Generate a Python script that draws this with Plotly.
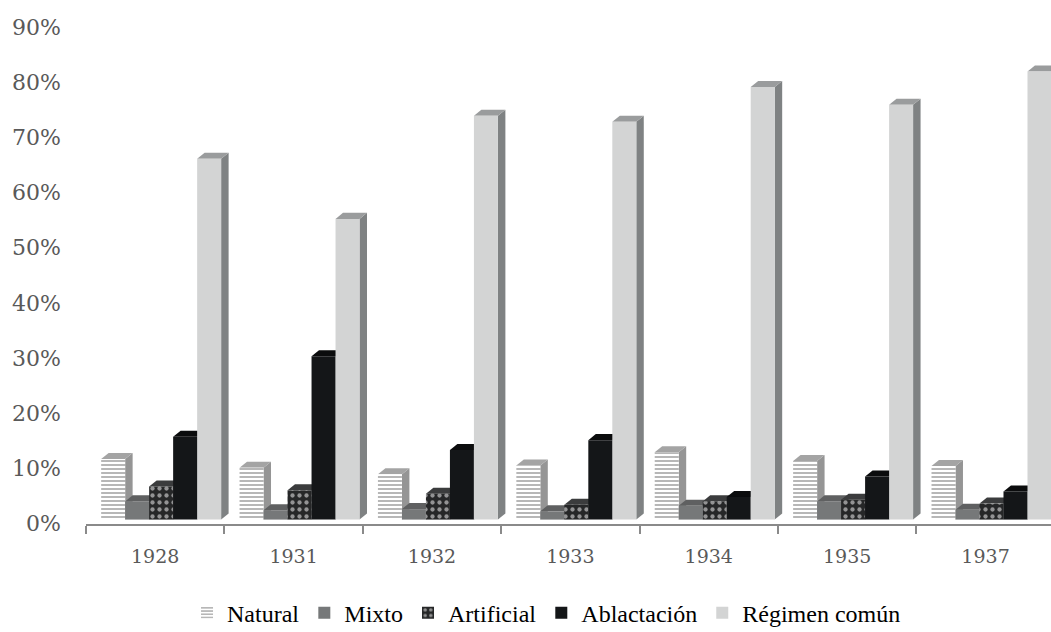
import plotly.graph_objects as go

years = ["1928", "1931", "1932", "1933", "1934", "1935", "1937"]
series_names = ["Natural", "Mixto", "Artificial", "Ablactación", "Régimen común"]
natural = [0.110, 0.094, 0.082, 0.098, 0.122, 0.106, 0.097]
mixto = [0.033, 0.017, 0.019, 0.015, 0.025, 0.033, 0.018]
artificial = [0.060, 0.053, 0.047, 0.027, 0.033, 0.036, 0.029]
ablactacion = [0.150, 0.296, 0.126, 0.144, 0.041, 0.078, 0.051]
regimen = [0.654, 0.545, 0.732, 0.721, 0.784, 0.752, 0.812]
y_ticks = [0.0, 0.1, 0.2, 0.3, 0.4, 0.5, 0.6, 0.7, 0.8, 0.9]

values = [natural, mixto, artificial, ablactacion, regimen]

front_colors = ["#ffffff", "#767879", "#262728", "#141618", "#d3d4d4"]
patterns = [
    dict(shape="-", fgcolor="#707070", bgcolor="#ffffff", size=4, solidity=0.5),
    None,
    dict(shape=".", fgcolor="#ffffff", bgcolor="#262728", size=7, solidity=0.3),
    None,
    None,
]
top_colors = ["#a4a4a4", "#5f6061", "#3b3c3d", "#0b0c0d", "#9a9c9d"]
side_colors = ["#959595", "#5a5b5c", "#333435", "#0e0f10", "#7f8283"]

bar_w = 0.1734
shift = 0.043
dx = 0.054
dy = 0.0109

fig = go.Figure()
shapes = []
n = len(series_names)
for j, (name, vals) in enumerate(zip(series_names, values)):
    off = -n * bar_w / 2 + shift + j * bar_w
    marker = dict(color=front_colors[j], line=dict(width=0))
    if patterns[j] is not None:
        marker["pattern"] = patterns[j]
    fig.add_trace(go.Bar(
        name=name, x=years, y=vals, width=bar_w, offset=off,
        marker=marker, hoverinfo="x+y+name",
    ))

# pseudo-3D side and top faces, computed from the data through the axes
for i in range(len(years)):
    for j, vals in enumerate(values):
        v = vals[i]
        x0 = i - n * bar_w / 2 + shift + j * bar_w
        x1 = x0 + bar_w
        side = (f"M{x1},0 L{x1+dx},{dy} L{x1+dx},{v+dy} L{x1},{v} Z")
        top = (f"M{x0},{v} L{x0+dx},{v+dy} L{x1+dx},{v+dy} L{x1},{v} Z")
        shapes.append(dict(type="path", path=side, xref="x", yref="y",
                           fillcolor=side_colors[j], line=dict(width=0), layer="below"))
        shapes.append(dict(type="path", path=top, xref="x", yref="y",
                           fillcolor=top_colors[j], line=dict(width=0), layer="below"))

fig.update_layout(
    width=1051, height=632,
    margin=dict(l=86, r=0, t=23, b=108, autoexpand=False),
    paper_bgcolor="white", plot_bgcolor="white",
    barmode="overlay",
    shapes=shapes,
    showlegend=True,
    legend=dict(orientation="h", xref="container", yref="container",
                x=0.52, xanchor="center", y=0.03, yanchor="middle",
                font=dict(family="Liberation Serif", size=24, color="#000000"),
                itemsizing="constant", traceorder="normal"),
    xaxis=dict(
        type="category", range=[-0.5, 6.473], automargin=False,
        showline=True, linecolor="#8a8a8a", linewidth=2,
        ticks="outside", tickson="boundaries", ticklen=8, tickcolor="#8a8a8a", tickwidth=2,
        tickfont=dict(family="DejaVu Serif", size=19, color="#595959"),
        showgrid=False, zeroline=False,
        ticklabelstandoff=14,
    ),
    yaxis=dict(
        range=[-0.008, 0.9], tickvals=y_ticks, tickformat=".0%", automargin=False,
        showline=False, showgrid=False, zeroline=False, ticks="",
        tickfont=dict(family="DejaVu Serif", size=22, color="#595959"),
        ticklabelstandoff=24, ticklabelshift=4,
    ),
)

fig.write_html(
    "out.html",
    config={"displayModeBar": False},
    post_script="document.body.style.margin='0';document.body.style.padding='0';"
                "document.body.style.overflow='hidden';",
)
